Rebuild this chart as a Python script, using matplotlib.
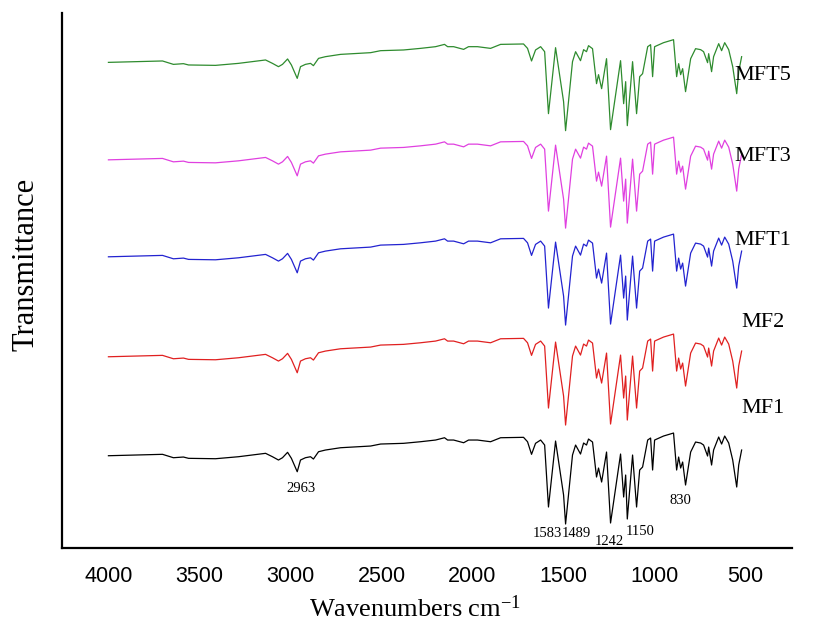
import numpy as np
import matplotlib
matplotlib.use("Agg")
import matplotlib.pyplot as plt

plt.rcParams["mathtext.fontset"] = "custom"
plt.rcParams["mathtext.rm"] = "Liberation Serif"
plt.rcParams["mathtext.it"] = "Liberation Serif:italic"

# ==== Dados ====
# numero de onda (cm-1) e transmitancia (unid. arbitrarias) da amostra MF1
numero_onda = [4000, 3703, 3643, 3588, 3560, 3412, 3286, 3137, 3099, 3066,
               3044, 3016, 2995, 2963, 2945, 2918, 2890, 2874, 2846, 2808,
               2725, 2560, 2505, 2379, 2286, 2203, 2154, 2137, 2104, 2049,
               2022, 1973, 1901, 1846, 1720, 1698, 1676, 1654, 1626, 1604,
               1583, 1544, 1500, 1489, 1451, 1434, 1407, 1390, 1374, 1363,
               1341, 1319, 1308, 1291, 1264, 1242, 1187, 1170, 1159, 1150,
               1121, 1099, 1082, 1066, 1038, 1022, 1011, 1000, 951, 896,
               879, 868, 857, 846, 830, 802, 775, 747, 731, 709,
               703, 687, 676, 648, 632, 615, 593, 571, 549, 538, 522]
transm_mf1 = [92.3, 93.7, 90.3, 91.0, 89.7, 89.3, 91.3, 94.7, 91.3, 88.0,
              90.3, 95.7, 89.7, 76.3, 88.0, 90.3, 91.3, 89.0, 96.3, 98.0,
              100.3, 102.0, 104.0, 104.7, 106.3, 108.0, 110.3, 108.0, 108.0, 105.3,
              108.0, 108.0, 106.3, 110.3, 110.7, 106.3, 93.7, 104.7, 108.0, 103.0,
              41.0, 107.0, 53.0, 24.0, 93.0, 103.0, 94.0, 105.0, 103.0, 109.0,
              106.0, 71.0, 80.0, 66.0, 96.0, 25.0, 94.0, 51.0, 73.0, 29.0,
              93.0, 41.0, 78.0, 81.0, 108.0, 110.0, 78.0, 108.0, 112.0, 115.0,
              78.0, 91.0, 80.0, 86.0, 63.0, 96.0, 106.0, 105.0, 103.0, 92.0,
              101.0, 83.0, 98.0, 111.0, 104.0, 112.0, 105.0, 88.0, 61.0, 83.0, 98.0]

amostras = ["MF1", "MF2", "MFT1", "MFT3", "MFT5"]
deslocamentos = [0, 99, 199, 296, 393.5]
cores = ["black", "#e02020", "#2323d0", "#e040e0", "#2e8b2e"]
pos_rotulo = [140, 226, 308, 392, 473]

picos = ["2963", "1583", "1489", "1242", "1150", "830"]
pos_picos = [(2945, 60), (1590, 14), (1430, 14), (1250, 6), (1080, 16), (860, 48)]

# ==== Gráfico ====
fig = plt.figure(figsize=(8.29, 6.28), dpi=100)
ax = fig.add_axes([0.0748, 0.1274, 0.8802, 0.8516])

for nome, d, cor, yr in zip(amostras, deslocamentos, cores, pos_rotulo):
    ax.plot(numero_onda, np.array(transm_mf1) + d, color=cor, lw=0.9)
    ax.text(405, yr, nome, ha="center", va="center", fontsize=16,
            family="Liberation Serif")

for txt, (x, y) in zip(picos, pos_picos):
    ax.text(x, y, txt, ha="center", va="center", fontsize=10.5,
            family="Liberation Serif")

ax.set_xlim(4255, 247)
ax.set_ylim(0, 535)
ax.set_xticks([4000, 3500, 3000, 2500, 2000, 1500, 1000, 500])
ax.set_yticks([])
ax.tick_params(axis="x", length=0, pad=13, labelsize=15.5)
for lbl in ax.get_xticklabels():
    lbl.set_family("Liberation Sans")
for s in ["top", "right"]:
    ax.spines[s].set_visible(False)
for s in ["left", "bottom"]:
    ax.spines[s].set_linewidth(1.6)

ax.set_xlabel("Wavenumbers cm$^{-1}$", fontsize=19, family="Liberation Serif")
ax.xaxis.set_label_coords(0.484, -0.088)
ax.set_ylabel("Transmittance", fontsize=22, family="Liberation Serif")
ax.yaxis.set_label_coords(-0.030, 0.53)

fig.savefig("out.png", dpi=100)
